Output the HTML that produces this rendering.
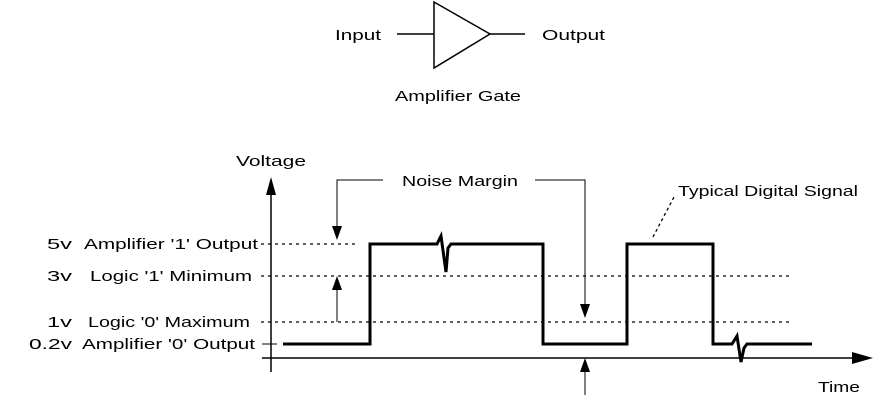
<!DOCTYPE html><html><head><style>body{margin:0;background:#fff}svg{display:block}text{font-family:"Liberation Sans",sans-serif;font-size:15px;fill:#000}</style></head><body>
<svg width="891" height="400" viewBox="0 0 891 400">
<g stroke="#000" fill="none">
<line x1="397" y1="34" x2="434" y2="34" stroke-width="1.5"/>
<polygon points="434,2 434,68 490,34" stroke-width="1.5"/>
<line x1="490" y1="34" x2="525" y2="34" stroke-width="1.5"/>
<line x1="271" y1="180" x2="271" y2="372" stroke-width="1.5"/>
<line x1="262" y1="358" x2="862" y2="358" stroke-width="1.5"/>
<g stroke-dasharray="3,4" stroke-width="1.3">
<line x1="261" y1="244" x2="358" y2="244"/>
<line x1="261" y1="276" x2="790" y2="276"/>
<line x1="261" y1="322" x2="790" y2="322"/>
<line x1="653" y1="237" x2="674" y2="197" stroke-dasharray="3,3"/>
</g>
<line x1="262" y1="344" x2="277" y2="344"/>
<polyline points="283,344 370,344 370,244 437,244 441,236 446,272 448,248 451,244 543,244 543,344 627,344 627,244 713,244 713,344 732,344 737,336 741,362 744,348 747,344 812,344" stroke-width="3"/>
<polyline points="383,180 337,180 337,238" stroke-width="1"/>
<polyline points="535,180 585,180 585,316" stroke-width="1"/>
<line x1="337" y1="322" x2="337" y2="278" stroke-width="1"/>
<line x1="585" y1="395" x2="585" y2="360" stroke-width="1"/>
</g>
<g fill="#000">
<polygon points="266,195 276,195 271,177"/>
<polygon points="852,352 852,364 873,358"/>
<polygon points="332,226 342,226 337,240"/>
<polygon points="580,304 590,304 585,318"/>
<polygon points="332,290 342,290 337,276"/>
<polygon points="580,372 590,372 585,358"/>
</g>
<g lengthAdjust="spacingAndGlyphs">
<text x="335" y="40" textLength="46" lengthAdjust="spacingAndGlyphs">Input</text>
<text x="542" y="40" textLength="63" lengthAdjust="spacingAndGlyphs">Output</text>
<text x="395" y="101" textLength="126" lengthAdjust="spacingAndGlyphs">Amplifier Gate</text>
<text x="236" y="166" textLength="70" lengthAdjust="spacingAndGlyphs">Voltage</text>
<text x="402" y="186" textLength="116" lengthAdjust="spacingAndGlyphs">Noise Margin</text>
<text x="678" y="196" textLength="180" lengthAdjust="spacingAndGlyphs">Typical Digital Signal</text>
<text x="818" y="392" textLength="42" lengthAdjust="spacingAndGlyphs">Time</text>
<text x="84" y="249" textLength="174" lengthAdjust="spacingAndGlyphs">Amplifier '1' Output</text>
<text x="90" y="281" textLength="162" lengthAdjust="spacingAndGlyphs">Logic '1' Minimum</text>
<text x="88" y="327" textLength="162" lengthAdjust="spacingAndGlyphs">Logic '0' Maximum</text>
<text x="82" y="349" textLength="173" lengthAdjust="spacingAndGlyphs">Amplifier '0' Output</text>
<text x="47" y="249" textLength="25" lengthAdjust="spacingAndGlyphs">5v</text>
<text x="47" y="281" textLength="25" lengthAdjust="spacingAndGlyphs">3v</text>
<text x="47" y="327" textLength="25" lengthAdjust="spacingAndGlyphs">1v</text>
<text x="29" y="349" textLength="43" lengthAdjust="spacingAndGlyphs">0.2v</text>
</g>
</svg></body></html>
